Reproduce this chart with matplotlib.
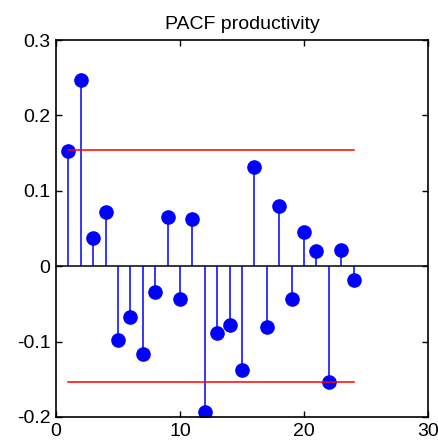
import matplotlib
matplotlib.use("Agg")
import matplotlib.pyplot as plt
import numpy as np

plt.rcParams["font.family"] = ["Liberation Sans", "DejaVu Sans"]

# PACF values
lags = list(range(1, 25))
pacf = [0.153, 0.247, 0.037, 0.072, -0.098, -0.068, -0.116, -0.034,
        0.065, -0.044, 0.063, -0.193, -0.088, -0.078, -0.138, 0.132,
        -0.080, 0.080, -0.044, 0.045, 0.020, -0.153, 0.021, -0.018]
bound = 0.154  # confidence bound
title = 'PACF productivity'

fig = plt.figure(figsize=(4.39, 4.48), dpi=100)
ax = fig.add_axes([0.1276, 0.0692, 0.8474, 0.8415])

markerline, stemlines, baseline = ax.stem(lags, pacf, linefmt='b-', markerfmt='bo', basefmt='k-')
plt.setp(stemlines, linewidth=1.1)
plt.setp(markerline, markersize=9.5)
baseline.set_visible(False)
ax.axhline(0, color='k', linewidth=1.1, zorder=1)

ax.plot([lags[0], lags[-1]], [bound, bound], color='r', linewidth=1.1)
ax.plot([lags[0], lags[-1]], [-bound, -bound], color='r', linewidth=1.1)

ax.set_xlim(0, 30)
ax.set_ylim(-0.2, 0.3)
ax.set_xticks([0, 10, 20, 30])
ax.set_yticks([-0.2, -0.1, 0, 0.1, 0.2, 0.3])
ax.set_yticklabels(['-0.2', '-0.1', '0', '0.1', '0.2', '0.3'])
ax.tick_params(direction='in', top=True, right=True, labelsize=14, length=4, width=1, pad=4)
for s in ax.spines.values():
    s.set_linewidth(1.2)
ax.set_title(title, fontsize=14, pad=8)

fig.savefig('out.png', dpi=100)
